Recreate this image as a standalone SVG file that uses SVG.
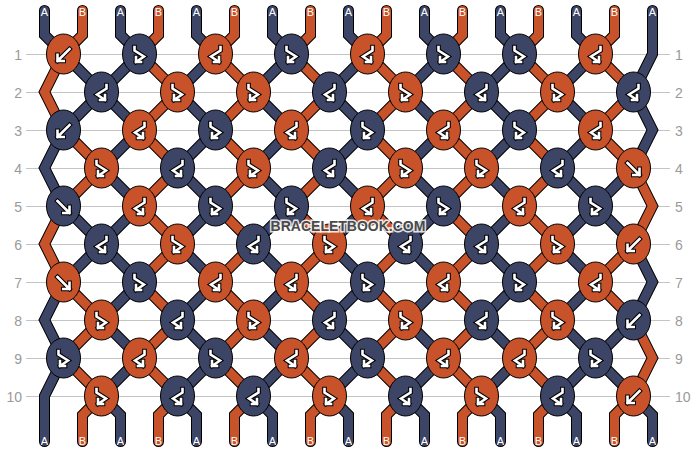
<svg xmlns="http://www.w3.org/2000/svg" xmlns:xlink="http://www.w3.org/1999/xlink" width="696" height="452" viewBox="0 0 696 452">
<style>
.grid{stroke:#c4c4c4;stroke-width:1}
.num{font-family:"Liberation Sans",Arial,sans-serif;font-size:14px;fill:#9a9a9a}
.ne{text-anchor:end}
.lbl{font-family:"Liberation Sans",Arial,sans-serif;font-size:11px;fill:#fff;text-anchor:middle}
.ol{fill:none;stroke:#000;stroke-width:11;stroke-linecap:round;stroke-linejoin:miter}
.A{fill:none;stroke:#3d4566;stroke-width:9;stroke-linecap:round;stroke-linejoin:miter}
.B{fill:none;stroke:#c8532a;stroke-width:9;stroke-linecap:round;stroke-linejoin:miter}
.kD{fill:#3d4566;stroke:#000;stroke-width:1}
.kO{fill:#c8532a;stroke:#000;stroke-width:1}
.gk{fill:none;stroke:#000;stroke-width:4.6;stroke-linecap:square;stroke-linejoin:miter}
.gw{fill:none;stroke:#fff;stroke-width:2.6;stroke-linecap:square;stroke-linejoin:miter}
.wm{font-family:"Liberation Sans",Arial,sans-serif;font-size:14px;font-weight:bold;fill:#4a4a4a;stroke:#fff;stroke-width:3;paint-order:stroke;stroke-opacity:0.85;text-anchor:middle}
</style>
<defs>
<path id="pF" d="M-6,-5L6,7M6,0.8V7H-0.2"/>
<path id="pB" d="M6,-5L-6,7M-6,0.8V7H0.2"/>
<path id="pFB" d="M-5,-7V-3.5L4.5,2.5L-3.5,8M-3.5,3V8H1.5"/>
<path id="pBF" d="M5,-7V-3.5L-4.5,2.5L3.5,8M3.5,3V8H-1.5"/>
<g id="F"><use href="#pF" class="gk"/><use href="#pF" class="gw"/></g>
<g id="B"><use href="#pB" class="gk"/><use href="#pB" class="gw"/></g>
<g id="FB"><use href="#pFB" class="gk"/><use href="#pFB" class="gw"/></g>
<g id="BF"><use href="#pBF" class="gk"/><use href="#pBF" class="gw"/></g>
<path id="t0" d="M44.5,10.5V35L63.5,54L101.5,92L63.5,130L44.5,168L63.5,206L101.5,244L63.5,282L44.5,320L63.5,358L44.5,396V441.5"/>
<path id="t1" d="M82.5,10.5V35L63.5,54L44.5,92L63.5,130L101.5,168L63.5,206L44.5,244L63.5,282L101.5,320L63.5,358L101.5,396L82.5,415V441.5"/>
<path id="t2" d="M120.5,10.5v24.5l19,19l-38,38l38,38l-38,38l38,38l-38,38l38,38l-38,38l38,38l-38,38l19,19v26.5"/>
<path id="t3" d="M158.5,10.5v24.5l-19,19l38,38l-38,38l38,38l-38,38l38,38l-38,38l38,38l-38,38l38,38l-19,19v26.5"/>
<path id="t4" d="M196.5,10.5v24.5l19,19l-38,38l38,38l-38,38l38,38l-38,38l38,38l-38,38l38,38l-38,38l19,19v26.5"/>
<path id="t5" d="M234.5,10.5v24.5l-19,19l38,38l-38,38l38,38l-38,38l38,38l-38,38l38,38l-38,38l38,38l-19,19v26.5"/>
<path id="t6" d="M272.5,10.5v24.5l19,19l-38,38l38,38l-38,38l38,38l-38,38l38,38l-38,38l38,38l-38,38l19,19v26.5"/>
<path id="t7" d="M310.5,10.5v24.5l-19,19l38,38l-38,38l38,38l-38,38l38,38l-38,38l38,38l-38,38l38,38l-19,19v26.5"/>
<path id="t8" d="M348.5,10.5v24.5l19,19l-38,38l38,38l-38,38l38,38l-38,38l38,38l-38,38l38,38l-38,38l19,19v26.5"/>
<path id="t9" d="M386.5,10.5v24.5l-19,19l38,38l-38,38l38,38l-38,38l38,38l-38,38l38,38l-38,38l38,38l-19,19v26.5"/>
<path id="t10" d="M424.5,10.5v24.5l19,19l-38,38l38,38l-38,38l38,38l-38,38l38,38l-38,38l38,38l-38,38l19,19v26.5"/>
<path id="t11" d="M462.5,10.5v24.5l-19,19l38,38l-38,38l38,38l-38,38l38,38l-38,38l38,38l-38,38l38,38l-19,19v26.5"/>
<path id="t12" d="M500.5,10.5v24.5l19,19l-38,38l38,38l-38,38l38,38l-38,38l38,38l-38,38l38,38l-38,38l19,19v26.5"/>
<path id="t13" d="M538.5,10.5v24.5l-19,19l38,38l-38,38l38,38l-38,38l38,38l-38,38l38,38l-38,38l38,38l-19,19v26.5"/>
<path id="t14" d="M576.5,10.5v24.5l19,19l-38,38l38,38l-38,38l38,38l-38,38l38,38l-38,38l38,38l-38,38l19,19v26.5"/>
<path id="t15" d="M614.5,10.5V35L595.5,54L633.5,92L595.5,130L633.5,168L652.5,206L633.5,244L595.5,282L633.5,320L652.5,358L633.5,396L614.5,415V441.5"/>
<path id="t16" d="M652.5,10.5V54L633.5,92L652.5,130L633.5,168L595.5,206L633.5,244L652.5,282L633.5,320L595.5,358L633.5,396L652.5,415V441.5"/>
</defs>
<rect width="696" height="452" fill="#fff"/>
<g id="grid">
<line class="grid" x1="26" y1="54.5" x2="670" y2="54.5"/>
<line class="grid" x1="26" y1="92.5" x2="670" y2="92.5"/>
<line class="grid" x1="26" y1="130.5" x2="670" y2="130.5"/>
<line class="grid" x1="26" y1="168.5" x2="670" y2="168.5"/>
<line class="grid" x1="26" y1="206.5" x2="670" y2="206.5"/>
<line class="grid" x1="26" y1="244.5" x2="670" y2="244.5"/>
<line class="grid" x1="26" y1="282.5" x2="670" y2="282.5"/>
<line class="grid" x1="26" y1="320.5" x2="670" y2="320.5"/>
<line class="grid" x1="26" y1="358.5" x2="670" y2="358.5"/>
<line class="grid" x1="26" y1="396.5" x2="670" y2="396.5"/>
<text class="num ne" x="22" y="60">1</text><text class="num" x="675" y="60">1</text>
<text class="num ne" x="22" y="98">2</text><text class="num" x="675" y="98">2</text>
<text class="num ne" x="22" y="136">3</text><text class="num" x="675" y="136">3</text>
<text class="num ne" x="22" y="174">4</text><text class="num" x="675" y="174">4</text>
<text class="num ne" x="22" y="212">5</text><text class="num" x="675" y="212">5</text>
<text class="num ne" x="22" y="250">6</text><text class="num" x="675" y="250">6</text>
<text class="num ne" x="22" y="288">7</text><text class="num" x="675" y="288">7</text>
<text class="num ne" x="22" y="326">8</text><text class="num" x="675" y="326">8</text>
<text class="num ne" x="22" y="364">9</text><text class="num" x="675" y="364">9</text>
<text class="num ne" x="22" y="402">10</text><text class="num" x="675" y="402">10</text>
</g>
<g id="connectors">
<g id="outlines">
<use href="#t0" class="ol"/><use href="#t1" class="ol"/><use href="#t2" class="ol"/><use href="#t3" class="ol"/><use href="#t4" class="ol"/><use href="#t5" class="ol"/><use href="#t6" class="ol"/><use href="#t7" class="ol"/><use href="#t8" class="ol"/><use href="#t9" class="ol"/><use href="#t10" class="ol"/><use href="#t11" class="ol"/><use href="#t12" class="ol"/><use href="#t13" class="ol"/><use href="#t14" class="ol"/><use href="#t15" class="ol"/><use href="#t16" class="ol"/>
</g>
<g id="threads">
<use href="#t0" class="A"/><use href="#t1" class="B"/><use href="#t2" class="A"/><use href="#t3" class="B"/><use href="#t4" class="A"/><use href="#t5" class="B"/><use href="#t6" class="A"/><use href="#t7" class="B"/><use href="#t8" class="A"/><use href="#t9" class="B"/><use href="#t10" class="A"/><use href="#t11" class="B"/><use href="#t12" class="A"/><use href="#t13" class="B"/><use href="#t14" class="A"/><use href="#t15" class="B"/><use href="#t16" class="A"/>
</g>
</g>
<g id="labels">
<text class="lbl" x="44.5" y="16">A</text><text class="lbl" x="82.5" y="16">B</text><text class="lbl" x="120.5" y="16">A</text><text class="lbl" x="158.5" y="16">B</text><text class="lbl" x="196.5" y="16">A</text><text class="lbl" x="234.5" y="16">B</text><text class="lbl" x="272.5" y="16">A</text><text class="lbl" x="310.5" y="16">B</text><text class="lbl" x="348.5" y="16">A</text><text class="lbl" x="386.5" y="16">B</text><text class="lbl" x="424.5" y="16">A</text><text class="lbl" x="462.5" y="16">B</text><text class="lbl" x="500.5" y="16">A</text><text class="lbl" x="538.5" y="16">B</text><text class="lbl" x="576.5" y="16">A</text><text class="lbl" x="614.5" y="16">B</text><text class="lbl" x="652.5" y="16">A</text>
<text class="lbl" x="44.5" y="445">A</text><text class="lbl" x="82.5" y="445">B</text><text class="lbl" x="120.5" y="445">A</text><text class="lbl" x="158.5" y="445">B</text><text class="lbl" x="196.5" y="445">A</text><text class="lbl" x="234.5" y="445">B</text><text class="lbl" x="272.5" y="445">A</text><text class="lbl" x="310.5" y="445">B</text><text class="lbl" x="348.5" y="445">A</text><text class="lbl" x="386.5" y="445">B</text><text class="lbl" x="424.5" y="445">A</text><text class="lbl" x="462.5" y="445">B</text><text class="lbl" x="500.5" y="445">A</text><text class="lbl" x="538.5" y="445">B</text><text class="lbl" x="576.5" y="445">A</text><text class="lbl" x="614.5" y="445">B</text><text class="lbl" x="652.5" y="445">A</text>
</g>
<g id="knots">
<g id="r1k1"><ellipse class="kO" cx="63.5" cy="54" rx="17" ry="20"/><use href="#B" x="63.5" y="54"/></g>
<g id="r1k2"><ellipse class="kD" cx="139.5" cy="54" rx="17" ry="20"/><use href="#FB" x="139.5" y="54"/></g>
<g id="r1k3"><ellipse class="kO" cx="215.5" cy="54" rx="17" ry="20"/><use href="#BF" x="215.5" y="54"/></g>
<g id="r1k4"><ellipse class="kD" cx="291.5" cy="54" rx="17" ry="20"/><use href="#FB" x="291.5" y="54"/></g>
<g id="r1k5"><ellipse class="kO" cx="367.5" cy="54" rx="17" ry="20"/><use href="#BF" x="367.5" y="54"/></g>
<g id="r1k6"><ellipse class="kD" cx="443.5" cy="54" rx="17" ry="20"/><use href="#FB" x="443.5" y="54"/></g>
<g id="r1k7"><ellipse class="kD" cx="519.5" cy="54" rx="17" ry="20"/><use href="#FB" x="519.5" y="54"/></g>
<g id="r1k8"><ellipse class="kO" cx="595.5" cy="54" rx="17" ry="20"/><use href="#BF" x="595.5" y="54"/></g>

<g id="r2k1"><ellipse class="kD" cx="101.5" cy="92" rx="17" ry="20"/><use href="#BF" x="101.5" y="92"/></g>
<g id="r2k2"><ellipse class="kO" cx="177.5" cy="92" rx="17" ry="20"/><use href="#FB" x="177.5" y="92"/></g>
<g id="r2k3"><ellipse class="kO" cx="253.5" cy="92" rx="17" ry="20"/><use href="#FB" x="253.5" y="92"/></g>
<g id="r2k4"><ellipse class="kD" cx="329.5" cy="92" rx="17" ry="20"/><use href="#BF" x="329.5" y="92"/></g>
<g id="r2k5"><ellipse class="kO" cx="405.5" cy="92" rx="17" ry="20"/><use href="#FB" x="405.5" y="92"/></g>
<g id="r2k6"><ellipse class="kD" cx="481.5" cy="92" rx="17" ry="20"/><use href="#BF" x="481.5" y="92"/></g>
<g id="r2k7"><ellipse class="kO" cx="557.5" cy="92" rx="17" ry="20"/><use href="#FB" x="557.5" y="92"/></g>
<g id="r2k8"><ellipse class="kD" cx="633.5" cy="92" rx="17" ry="20"/><use href="#BF" x="633.5" y="92"/></g>

<g id="r3k1"><ellipse class="kD" cx="63.5" cy="130" rx="17" ry="20"/><use href="#B" x="63.5" y="130"/></g>
<g id="r3k2"><ellipse class="kO" cx="139.5" cy="130" rx="17" ry="20"/><use href="#BF" x="139.5" y="130"/></g>
<g id="r3k3"><ellipse class="kD" cx="215.5" cy="130" rx="17" ry="20"/><use href="#FB" x="215.5" y="130"/></g>
<g id="r3k4"><ellipse class="kO" cx="291.5" cy="130" rx="17" ry="20"/><use href="#BF" x="291.5" y="130"/></g>
<g id="r3k5"><ellipse class="kD" cx="367.5" cy="130" rx="17" ry="20"/><use href="#FB" x="367.5" y="130"/></g>
<g id="r3k6"><ellipse class="kO" cx="443.5" cy="130" rx="17" ry="20"/><use href="#BF" x="443.5" y="130"/></g>
<g id="r3k7"><ellipse class="kD" cx="519.5" cy="130" rx="17" ry="20"/><use href="#FB" x="519.5" y="130"/></g>
<g id="r3k8"><ellipse class="kO" cx="595.5" cy="130" rx="17" ry="20"/><use href="#BF" x="595.5" y="130"/></g>

<g id="r4k1"><ellipse class="kO" cx="101.5" cy="168" rx="17" ry="20"/><use href="#FB" x="101.5" y="168"/></g>
<g id="r4k2"><ellipse class="kD" cx="177.5" cy="168" rx="17" ry="20"/><use href="#BF" x="177.5" y="168"/></g>
<g id="r4k3"><ellipse class="kO" cx="253.5" cy="168" rx="17" ry="20"/><use href="#FB" x="253.5" y="168"/></g>
<g id="r4k4"><ellipse class="kD" cx="329.5" cy="168" rx="17" ry="20"/><use href="#BF" x="329.5" y="168"/></g>
<g id="r4k5"><ellipse class="kO" cx="405.5" cy="168" rx="17" ry="20"/><use href="#FB" x="405.5" y="168"/></g>
<g id="r4k6"><ellipse class="kO" cx="481.5" cy="168" rx="17" ry="20"/><use href="#FB" x="481.5" y="168"/></g>
<g id="r4k7"><ellipse class="kD" cx="557.5" cy="168" rx="17" ry="20"/><use href="#BF" x="557.5" y="168"/></g>
<g id="r4k8"><ellipse class="kO" cx="633.5" cy="168" rx="17" ry="20"/><use href="#F" x="633.5" y="168"/></g>

<g id="r5k1"><ellipse class="kD" cx="63.5" cy="206" rx="17" ry="20"/><use href="#F" x="63.5" y="206"/></g>
<g id="r5k2"><ellipse class="kO" cx="139.5" cy="206" rx="17" ry="20"/><use href="#BF" x="139.5" y="206"/></g>
<g id="r5k3"><ellipse class="kD" cx="215.5" cy="206" rx="17" ry="20"/><use href="#FB" x="215.5" y="206"/></g>
<g id="r5k4"><ellipse class="kD" cx="291.5" cy="206" rx="17" ry="20"/><use href="#FB" x="291.5" y="206"/></g>
<g id="r5k5"><ellipse class="kO" cx="367.5" cy="206" rx="17" ry="20"/><use href="#BF" x="367.5" y="206"/></g>
<g id="r5k6"><ellipse class="kD" cx="443.5" cy="206" rx="17" ry="20"/><use href="#FB" x="443.5" y="206"/></g>
<g id="r5k7"><ellipse class="kO" cx="519.5" cy="206" rx="17" ry="20"/><use href="#BF" x="519.5" y="206"/></g>
<g id="r5k8"><ellipse class="kD" cx="595.5" cy="206" rx="17" ry="20"/><use href="#FB" x="595.5" y="206"/></g>

<g id="r6k1"><ellipse class="kD" cx="101.5" cy="244" rx="17" ry="20"/><use href="#BF" x="101.5" y="244"/></g>
<g id="r6k2"><ellipse class="kO" cx="177.5" cy="244" rx="17" ry="20"/><use href="#FB" x="177.5" y="244"/></g>
<g id="r6k3"><ellipse class="kD" cx="253.5" cy="244" rx="17" ry="20"/><use href="#BF" x="253.5" y="244"/></g>
<g id="r6k4"><ellipse class="kO" cx="329.5" cy="244" rx="17" ry="20"/><use href="#FB" x="329.5" y="244"/></g>
<g id="r6k5"><ellipse class="kD" cx="405.5" cy="244" rx="17" ry="20"/><use href="#BF" x="405.5" y="244"/></g>
<g id="r6k6"><ellipse class="kD" cx="481.5" cy="244" rx="17" ry="20"/><use href="#BF" x="481.5" y="244"/></g>
<g id="r6k7"><ellipse class="kO" cx="557.5" cy="244" rx="17" ry="20"/><use href="#FB" x="557.5" y="244"/></g>
<g id="r6k8"><ellipse class="kO" cx="633.5" cy="244" rx="17" ry="20"/><use href="#B" x="633.5" y="244"/></g>

<g id="r7k1"><ellipse class="kO" cx="63.5" cy="282" rx="17" ry="20"/><use href="#F" x="63.5" y="282"/></g>
<g id="r7k2"><ellipse class="kD" cx="139.5" cy="282" rx="17" ry="20"/><use href="#FB" x="139.5" y="282"/></g>
<g id="r7k3"><ellipse class="kO" cx="215.5" cy="282" rx="17" ry="20"/><use href="#BF" x="215.5" y="282"/></g>
<g id="r7k4"><ellipse class="kO" cx="291.5" cy="282" rx="17" ry="20"/><use href="#BF" x="291.5" y="282"/></g>
<g id="r7k5"><ellipse class="kD" cx="367.5" cy="282" rx="17" ry="20"/><use href="#FB" x="367.5" y="282"/></g>
<g id="r7k6"><ellipse class="kO" cx="443.5" cy="282" rx="17" ry="20"/><use href="#BF" x="443.5" y="282"/></g>
<g id="r7k7"><ellipse class="kD" cx="519.5" cy="282" rx="17" ry="20"/><use href="#FB" x="519.5" y="282"/></g>
<g id="r7k8"><ellipse class="kO" cx="595.5" cy="282" rx="17" ry="20"/><use href="#BF" x="595.5" y="282"/></g>

<g id="r8k1"><ellipse class="kO" cx="101.5" cy="320" rx="17" ry="20"/><use href="#FB" x="101.5" y="320"/></g>
<g id="r8k2"><ellipse class="kD" cx="177.5" cy="320" rx="17" ry="20"/><use href="#BF" x="177.5" y="320"/></g>
<g id="r8k3"><ellipse class="kO" cx="253.5" cy="320" rx="17" ry="20"/><use href="#FB" x="253.5" y="320"/></g>
<g id="r8k4"><ellipse class="kD" cx="329.5" cy="320" rx="17" ry="20"/><use href="#BF" x="329.5" y="320"/></g>
<g id="r8k5"><ellipse class="kO" cx="405.5" cy="320" rx="17" ry="20"/><use href="#FB" x="405.5" y="320"/></g>
<g id="r8k6"><ellipse class="kD" cx="481.5" cy="320" rx="17" ry="20"/><use href="#BF" x="481.5" y="320"/></g>
<g id="r8k7"><ellipse class="kO" cx="557.5" cy="320" rx="17" ry="20"/><use href="#FB" x="557.5" y="320"/></g>
<g id="r8k8"><ellipse class="kD" cx="633.5" cy="320" rx="17" ry="20"/><use href="#B" x="633.5" y="320"/></g>

<g id="r9k1"><ellipse class="kD" cx="63.5" cy="358" rx="17" ry="20"/><use href="#FB" x="63.5" y="358"/></g>
<g id="r9k2"><ellipse class="kO" cx="139.5" cy="358" rx="17" ry="20"/><use href="#BF" x="139.5" y="358"/></g>
<g id="r9k3"><ellipse class="kD" cx="215.5" cy="358" rx="17" ry="20"/><use href="#FB" x="215.5" y="358"/></g>
<g id="r9k4"><ellipse class="kO" cx="291.5" cy="358" rx="17" ry="20"/><use href="#BF" x="291.5" y="358"/></g>
<g id="r9k5"><ellipse class="kD" cx="367.5" cy="358" rx="17" ry="20"/><use href="#FB" x="367.5" y="358"/></g>
<g id="r9k6"><ellipse class="kO" cx="443.5" cy="358" rx="17" ry="20"/><use href="#BF" x="443.5" y="358"/></g>
<g id="r9k7"><ellipse class="kO" cx="519.5" cy="358" rx="17" ry="20"/><use href="#BF" x="519.5" y="358"/></g>
<g id="r9k8"><ellipse class="kD" cx="595.5" cy="358" rx="17" ry="20"/><use href="#FB" x="595.5" y="358"/></g>

<g id="r10k1"><ellipse class="kO" cx="101.5" cy="396" rx="17" ry="20"/><use href="#FB" x="101.5" y="396"/></g>
<g id="r10k2"><ellipse class="kD" cx="177.5" cy="396" rx="17" ry="20"/><use href="#BF" x="177.5" y="396"/></g>
<g id="r10k3"><ellipse class="kD" cx="253.5" cy="396" rx="17" ry="20"/><use href="#BF" x="253.5" y="396"/></g>
<g id="r10k4"><ellipse class="kO" cx="329.5" cy="396" rx="17" ry="20"/><use href="#FB" x="329.5" y="396"/></g>
<g id="r10k5"><ellipse class="kD" cx="405.5" cy="396" rx="17" ry="20"/><use href="#BF" x="405.5" y="396"/></g>
<g id="r10k6"><ellipse class="kO" cx="481.5" cy="396" rx="17" ry="20"/><use href="#FB" x="481.5" y="396"/></g>
<g id="r10k7"><ellipse class="kD" cx="557.5" cy="396" rx="17" ry="20"/><use href="#BF" x="557.5" y="396"/></g>
<g id="r10k8"><ellipse class="kO" cx="633.5" cy="396" rx="17" ry="20"/><use href="#B" x="633.5" y="396"/></g>
</g>
<text class="wm" x="348" y="231">BRACELETBOOK.COM</text>
</svg>
